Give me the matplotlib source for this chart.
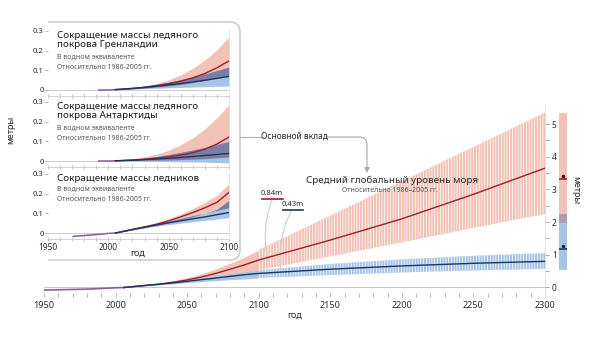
import matplotlib
matplotlib.use('Agg')
import matplotlib.pyplot as plt
from matplotlib.path import Path
from matplotlib.patches import PathPatch
import numpy as np

plt.rcParams['font.family'] = ['Noto Sans', 'DejaVu Sans']
plt.rcParams['hatch.color'] = 'white'
plt.rcParams['hatch.linewidth'] = 0.5

# ---- main chart data (metres, relative to 1986-2005) ----
hist_years = [1950, 1960, 1970, 1980, 1990, 2000, 2006]
hist_vals = [-0.08, -0.07, -0.06, -0.05, -0.03, -0.01, 0.0]

proj_years = [2006, 2020, 2030, 2040, 2050, 2060, 2070, 2080, 2090, 2100]
high_mid = [0.0, 0.06, 0.10, 0.16, 0.23, 0.32, 0.43, 0.56, 0.69, 0.84]
high_lo = [0.0, 0.05, 0.08, 0.12, 0.17, 0.23, 0.30, 0.37, 0.45, 0.53]
high_hi = [0.0, 0.07, 0.12, 0.20, 0.30, 0.42, 0.57, 0.74, 0.93, 1.15]
low_mid = [0.0, 0.06, 0.10, 0.14, 0.19, 0.24, 0.29, 0.34, 0.39, 0.43]
low_lo = [0.0, 0.05, 0.08, 0.11, 0.15, 0.18, 0.21, 0.24, 0.26, 0.29]
low_hi = [0.0, 0.07, 0.12, 0.17, 0.23, 0.30, 0.37, 0.43, 0.48, 0.53]

ext_years = [2100, 2150, 2200, 2250, 2300]
ext_high_mid = [0.84, 1.45, 2.10, 2.85, 3.65]
ext_high_lo = [0.53, 0.95, 1.38, 1.82, 2.25]
ext_high_hi = [1.15, 2.20, 3.25, 4.30, 5.35]
ext_low_mid = [0.43, 0.56, 0.66, 0.74, 0.80]
ext_low_lo = [0.29, 0.38, 0.46, 0.52, 0.57]
ext_low_hi = [0.53, 0.72, 0.86, 0.97, 1.05]

# 2300 range bars: (low, high, median)
bar_high = (1.98, 5.33, 3.31)
bar_low = (0.53, 2.25, 1.17)

# ---- inset panels ----
panel_titles = ['Сокращение массы ледяного\nпокрова Гренландии',
                'Сокращение массы ледяного\nпокрова Антарктиды',
                'Сокращение массы ледников']
panel_hist_years = [[1992, 2000, 2006], [1992, 2000, 2006], [1971, 1980, 1990, 2000, 2006]]
panel_hist_vals = [[0.0, 0.0, 0.002], [0.0, 0.0, 0.001], [-0.017, -0.013, -0.008, -0.002, 0.0]]
inset_years = [2006, 2020, 2030, 2040, 2050, 2060, 2070, 2080, 2090, 2100]
greenland = {
    'high_mid': [0.002, 0.008, 0.014, 0.022, 0.032, 0.045, 0.062, 0.084, 0.113, 0.148],
    'high_lo': [0.002, 0.006, 0.010, 0.015, 0.021, 0.028, 0.037, 0.048, 0.061, 0.075],
    'high_hi': [0.002, 0.010, 0.020, 0.033, 0.052, 0.077, 0.110, 0.152, 0.205, 0.27],
    'low_mid': [0.002, 0.008, 0.013, 0.019, 0.026, 0.033, 0.041, 0.050, 0.059, 0.069],
    'low_lo': [0.002, 0.005, 0.007, 0.009, 0.011, 0.013, 0.015, 0.017, 0.019, 0.02],
    'low_hi': [0.002, 0.011, 0.019, 0.029, 0.040, 0.052, 0.066, 0.082, 0.099, 0.117],
}
antarctic = {
    'high_mid': [0.001, 0.005, 0.009, 0.014, 0.021, 0.030, 0.042, 0.060, 0.086, 0.122],
    'high_lo': [0.001, 0.002, 0.003, 0.004, 0.005, 0.007, 0.009, 0.012, 0.016, 0.021],
    'high_hi': [0.001, 0.011, 0.021, 0.035, 0.055, 0.082, 0.118, 0.163, 0.220, 0.286],
    'low_mid': [0.001, 0.004, 0.007, 0.010, 0.014, 0.018, 0.023, 0.028, 0.033, 0.039],
    'low_lo': [0.001, 0.000, -0.001, -0.002, -0.003, -0.004, -0.005, -0.006, -0.008, -0.01],
    'low_hi': [0.001, 0.008, 0.015, 0.023, 0.033, 0.044, 0.056, 0.069, 0.084, 0.10],
}
glaciers = {
    'high_mid': [0.0, 0.018, 0.031, 0.045, 0.062, 0.082, 0.104, 0.128, 0.156, 0.206],
    'high_lo': [0.0, 0.016, 0.027, 0.039, 0.052, 0.067, 0.083, 0.101, 0.121, 0.167],
    'high_hi': [0.0, 0.020, 0.035, 0.052, 0.072, 0.096, 0.124, 0.156, 0.192, 0.249],
    'low_mid': [0.0, 0.018, 0.030, 0.041, 0.052, 0.062, 0.072, 0.082, 0.093, 0.104],
    'low_lo': [0.0, 0.016, 0.026, 0.035, 0.043, 0.050, 0.057, 0.064, 0.071, 0.079],
    'low_hi': [0.0, 0.020, 0.034, 0.047, 0.060, 0.074, 0.088, 0.101, 0.114, 0.128],
}
panel_data = [greenland, antarctic, glaciers]

RED_BAND = '#f2c2b6'
BLUE_BAND = '#a6c4e6'
RED_LINE = '#9e1f2a'
BLUE_LINE = '#1c3566'
OVERLAP = '#7a7ea3'
HIST = '#8a5aa8'
GRID = '#c8c8c8'
TXT = '#2a2a2a'

W, H = 600, 337
fig = plt.figure(figsize=(6, 3.37), dpi=100)


def fx(x):
    return x / W


def fy(y):
    return 1 - y / H


# ---------------- main axes ----------------
ax = fig.add_axes([fx(44), fy(297.3), fx(545) - fx(44), fy(104.4) - fy(297.3)])
ax.set_xlim(1950, 2300)
ax.set_ylim(-0.3, 5.6)

ax.fill_between(proj_years, high_lo, high_hi, color=RED_BAND, lw=0, zorder=1)
ax.fill_between(ext_years, ext_high_lo, ext_high_hi, facecolor=RED_BAND, edgecolor='white',
                hatch='||||||', lw=0, zorder=1)
ax.fill_between(proj_years, low_lo, low_hi, color=BLUE_BAND, lw=0, zorder=2)
ax.fill_between(ext_years, ext_low_lo, ext_low_hi, facecolor=BLUE_BAND, edgecolor='white',
                hatch='||||||', lw=0, zorder=2)
ax.axhline(0, color=GRID, lw=0.8, zorder=0)
ax.plot(hist_years, hist_vals, color=HIST, lw=1.2, zorder=4)
ax.plot(proj_years + ext_years[1:], high_mid + ext_high_mid[1:], color=RED_LINE, lw=1.0, zorder=4)
ax.plot(proj_years + ext_years[1:], low_mid + ext_low_mid[1:], color=BLUE_LINE, lw=1.0, zorder=4)

for s in ['top', 'left', 'bottom']:
    ax.spines[s].set_visible(False)
ax.spines['right'].set_color('#dddddd')
ax.spines['right'].set_linewidth(0.6)
ax.yaxis.tick_right()
ax.set_yticks([0, 1, 2, 3, 4, 5])
ax.set_yticks(np.arange(0.5, 5.5, 1.0), minor=True)
ax.tick_params(axis='y', which='both', length=3, width=0.6, color='#999999', labelsize=6,
               labelcolor=TXT, pad=2)
ax.set_xticks(np.arange(1950, 2301, 50))
ax.set_xticks(np.arange(1950, 2301, 10), minor=True)
ax.tick_params(axis='x', which='both', direction='in', length=3, width=0.6, color='#aaaaaa',
               labelsize=6.5, labelcolor=TXT, pad=3)
ax.set_xlabel('год', fontsize=6.5, color=TXT, labelpad=0)
ax.patch.set_alpha(0)

# 2300 range bar
axb = fig.add_axes([fx(559), fy(297.3), fx(567) - fx(559), fy(104.4) - fy(297.3)])
axb.set_ylim(-0.3, 5.6)
axb.set_xlim(0, 1)
axb.bar(0.5, bar_high[1] - bar_high[0], bottom=bar_high[0], width=1, color=RED_BAND, lw=0)
axb.bar(0.5, bar_low[1] - bar_low[0], bottom=bar_low[0], width=1, color=BLUE_BAND, lw=0)
axb.bar(0.5, bar_low[1] - bar_high[0], bottom=bar_high[0], width=1, color='#aa9fb4', lw=0)
axb.plot([0, 1], [bar_high[2]] * 2, color=RED_LINE, lw=1.2)
axb.plot([0, 1], [bar_low[2]] * 2, color=BLUE_LINE, lw=1.2)
axb.plot([0.55], [bar_high[2] + 0.09], 'o', ms=1.5, color='#222222')
axb.plot([0.55], [bar_low[2] + 0.09], 'o', ms=1.5, color='#222222')
axb.axis('off')
fig.text(fx(576), fy(190), 'метры', rotation=-90, fontsize=6.5, color=TXT, ha='center', va='center',
         fontweight='bold')

# main title
fig.text(fx(392), fy(180), 'Средний глобальный уровень моря', fontsize=7, color=TXT,
         ha='center', va='center')
fig.text(fx(390), fy(190.5), 'Относительно 1986–2005 гг.', fontsize=5, color='#555555',
         ha='center', va='center')

# ---------------- inset box ----------------
verts = [(48, 22), (230, 22), (240, 22), (240, 32), (240, 250), (240, 260), (230, 260), (48, 260)]
codes = [Path.MOVETO, Path.LINETO, Path.CURVE3, Path.CURVE3, Path.LINETO, Path.CURVE3, Path.CURVE3,
         Path.LINETO]
box = PathPatch(Path([(fx(x), fy(y)) for x, y in verts], codes), transform=fig.transFigure,
                facecolor='white', edgecolor='#cccccc', lw=1.2, zorder=-1)
fig.add_artist(box)

panel_zero = [90, 161, 233]
for i, (title, d) in enumerate(zip(panel_titles, panel_data)):
    z = panel_zero[i]
    top, bot = z - 0.31 * 196.7, z + 0.03 * 196.7
    a = fig.add_axes([fx(48), fy(bot), fx(229) - fx(48), fy(top) - fy(bot)])
    a.set_xlim(1950, 2100)
    a.set_ylim(-0.03, 0.31)
    a.patch.set_alpha(0)
    a.fill_between(inset_years, d['high_lo'], d['high_hi'], color=RED_BAND, lw=0)
    a.fill_between(inset_years, d['low_lo'], d['low_hi'], color=BLUE_BAND, lw=0)
    a.fill_between(inset_years, np.maximum(d['high_lo'], d['low_lo']),
                   np.minimum(d['high_hi'], d['low_hi']), color=OVERLAP, lw=0)
    a.plot(panel_hist_years[i], panel_hist_vals[i], color=HIST, lw=1.1)
    a.plot(inset_years, d['high_mid'], color=RED_LINE, lw=1.0)
    a.plot(inset_years, d['low_mid'], color=BLUE_LINE, lw=1.0)
    a.axhline(0, color=GRID, lw=0.6, zorder=0)
    for s in ['top', 'left']:
        a.spines[s].set_visible(False)
    a.spines['right'].set_color('#dddddd')
    a.spines['right'].set_linewidth(0.5)
    a.spines['bottom'].set_color('#cccccc')
    a.spines['bottom'].set_linewidth(0.6)
    a.set_yticks([0, 0.1, 0.2, 0.3])
    a.set_yticklabels(['0', '0.1', '0.2', '0.3'])
    a.tick_params(axis='y', length=2, width=0.5, color='#999999', labelsize=5.5, labelcolor=TXT, pad=1)
    a.set_xticks([1950, 2000, 2050, 2100])
    a.set_xticks(np.arange(1950, 2101, 10), minor=True)
    a.tick_params(axis='x', which='both', direction='inout', length=2.5, width=0.5, color='#aaaaaa',
                  labelsize=6, labelcolor=TXT, pad=2)
    if i < 2:
        a.tick_params(axis='x', labelbottom=False)
    a.text(0.05, 0.97, title, transform=a.transAxes, fontsize=7, color='#1a1a1a', va='top',
           ha='left', linespacing=1.0)
    nlines = title.count('\n') + 1
    sub_y = 0.97 - nlines * 0.175
    a.text(0.05, sub_y, 'В водном эквиваленте', transform=a.transAxes, fontsize=5, color='#555555',
           va='top', ha='left')
    a.text(0.05, sub_y - 0.15, 'Относительно 1986-2005 гг.', transform=a.transAxes, fontsize=5,
           color='#555555', va='top', ha='left')

fig.text(fx(138), fy(253.5), 'год', fontsize=6.5, color=TXT, ha='center', va='center')
fig.text(fx(11), fy(130), 'метры', rotation=90, fontsize=6.5, color=TXT, ha='center', va='center',
         fontweight='bold')

# ---------------- annotations ----------------
line_kw = dict(color='#aaaaaa', lw=0.8)
fig.add_artist(plt.Line2D([fx(240), fx(263)], [fy(137), fy(137)], transform=fig.transFigure, **line_kw))
fig.text(fx(294), fy(136.5), 'Основной вклад', fontsize=6, color=TXT, ha='center', va='center')
ax.annotate('', xy=(fx(367), fy(173)), xycoords='figure fraction',
            xytext=(fx(326), fy(137)), textcoords='figure fraction',
            arrowprops=dict(arrowstyle='-|>,head_length=0.3,head_width=0.15', color='#aaaaaa', lw=0.8,
                            shrinkA=0, shrinkB=0, connectionstyle='angle,angleA=0,angleB=90,rad=8'))

fig.text(fx(272), fy(193.5), '0.84m', fontsize=5.5, color=TXT, ha='center', va='center',
         fontweight='bold')
fig.add_artist(plt.Line2D([fx(262), fx(283)], [fy(199.5), fy(199.5)], transform=fig.transFigure,
                          color=RED_LINE, lw=1.2))
fig.text(fx(293), fy(204.5), '0.43m', fontsize=5.5, color=TXT, ha='center', va='center',
         fontweight='bold')
fig.add_artist(plt.Line2D([fx(283), fx(303)], [fy(210), fy(210)], transform=fig.transFigure,
                          color=BLUE_LINE, lw=1.2))
ax.annotate('', xy=(fx(268), fy(261)), xycoords='figure fraction',
            xytext=(fx(272), fy(200)), textcoords='figure fraction',
            arrowprops=dict(arrowstyle='-', color='#cccccc', lw=0.8, shrinkA=0, shrinkB=0,
                            connectionstyle='arc3,rad=0.15'))
ax.annotate('', xy=(fx(281), fy(274)), xycoords='figure fraction',
            xytext=(fx(291), fy(211)), textcoords='figure fraction',
            arrowprops=dict(arrowstyle='-', color='#cccccc', lw=0.8, shrinkA=0, shrinkB=0,
                            connectionstyle='arc3,rad=0.15'))

fig.savefig('out.png', dpi=100)
